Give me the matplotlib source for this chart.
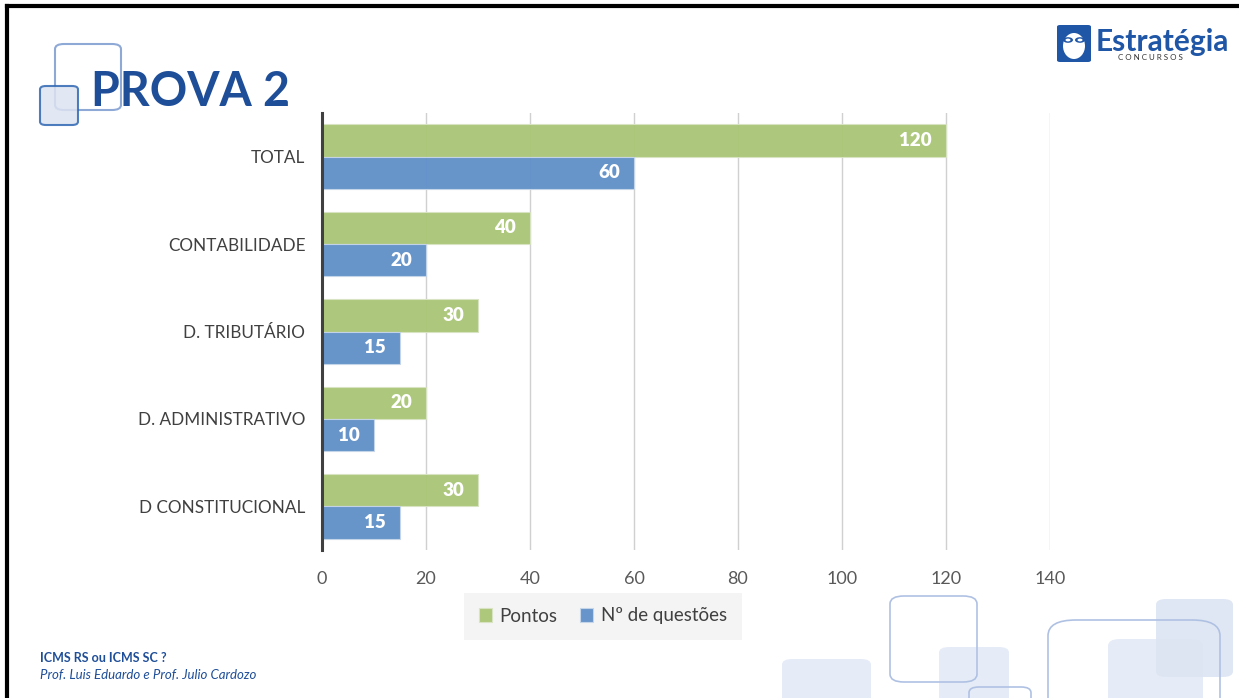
import matplotlib
matplotlib.use("Agg")
import matplotlib.pyplot as plt
import numpy as np
from matplotlib.patches import FancyBboxPatch, Ellipse, Circle
from matplotlib.lines import Line2D

# chart data
categorias = ["TOTAL", "CONTABILIDADE", "D. TRIBUTÁRIO", "D. ADMINISTRATIVO", "D CONSTITUCIONAL"]
pontos = [120, 40, 30, 20, 30]
questoes = [60, 20, 15, 10, 15]
x_ticks = [0, 20, 40, 60, 80, 100, 120, 140]

verde = "#A9C575"
azul = "#5F8FC8"
azul_titulo = "#1F4E99"
plt.rcParams['font.family'] = ['Lato', 'DejaVu Sans']

W, H = 1239, 698
fig = plt.figure(figsize=(W / 100, H / 100), dpi=100)


def fx(px):
    return px / W


def fy(py):
    return 1 - py / H


def caixa(x0, y0, x1, y1, face, edge, lw=1.0, r=10, alpha=1.0):
    p = FancyBboxPatch((fx(x0), fy(y1)), fx(x1 - x0), (y1 - y0) / H,
                       boxstyle="round,pad=0,rounding_size=%f" % (r / W),
                       transform=fig.transFigure, facecolor=face, edgecolor=edge,
                       linewidth=lw, alpha=alpha, zorder=0)
    fig.add_artist(p)


# slide frame (left and top border)
fig.add_artist(Line2D([fx(7), fx(7)], [0, fy(6)], transform=fig.transFigure, color="black", lw=3))
fig.add_artist(Line2D([fx(7), 1], [fy(6), fy(6)], transform=fig.transFigure, color="black", lw=3))

# decorative squares top-left
caixa(55, 44, 121, 110, "none", "#8EA9D6", lw=1.5, r=9)
caixa(40, 86, 78, 125, "#DCE3F1", "#2F67B2", lw=1.5, r=6, alpha=0.85)

fig.text(fx(91), fy(92), "PROVA 2", fontsize=33.5, fontweight="bold", color=azul_titulo,
         va="center", ha="left")

# decorative squares bottom-right
claro = "#E6ECF7"
borda = "#AFC1E3"
caixa(782, 659, 871, 720, claro, "none", r=10)
caixa(939, 647, 1009, 720, claro, "none", r=10)
caixa(890, 596, 977, 682, "none", borda, lw=1.2, r=14)
caixa(969, 687, 1031, 720, "none", borda, lw=1.2, r=10)
caixa(1108, 639, 1203, 720, claro, "none", r=12)
caixa(1156, 599, 1233, 677, "#DDE5F3", "none", r=10, alpha=0.9)
caixa(1048, 620, 1220, 720, "none", borda, lw=1.2, r=28)

# logo
caixa(1057, 25, 1091, 62, "#1F56A6", "none", r=3)
fig.add_artist(Ellipse((fx(1074), fy(46)), 22 / W, 26 / H, transform=fig.transFigure,
                       facecolor="white", edgecolor="none"))
for cx in (1068, 1080):
    fig.add_artist(Circle((fx(cx), fy(40)), 5 / W, transform=fig.transFigure,
                          facecolor="#1F56A6", edgecolor="none"))
    fig.add_artist(Circle((fx(cx), fy(40)), 2.5 / W, transform=fig.transFigure,
                          facecolor="white", edgecolor="none"))
fig.text(fx(1096), fy(51), "Estratégia", fontsize=21.5, fontweight="bold", color="#1F56A6",
         va="baseline", ha="left")
fig.text(fx(1118), fy(60), "C O N C U R S O S", fontsize=5.8, color="#333333",
         va="baseline", ha="left")

# footer
fig.text(fx(40), fy(658), "ICMS RS ou ICMS SC ?", fontsize=9, fontweight="bold",
         color=azul_titulo, va="center", ha="left")
fig.text(fx(40), fy(675), "Prof. Luis Eduardo e Prof. Julio Cardozo", fontsize=9.5,
         fontstyle="italic", color=azul_titulo, va="center", ha="left")

# chart
ax = fig.add_axes([fx(322), fy(550), fx(1050) - fx(322), (550 - 113) / H])
y = np.arange(len(categorias))
h = 0.37
b1 = ax.barh(y - h / 2, pontos, height=h, color=verde, edgecolor="#D8E4C4", linewidth=0.8,
             alpha=0.95, zorder=2, label="Pontos")
b2 = ax.barh(y + h / 2, questoes, height=h, color=azul, edgecolor="#C6D5EA", linewidth=0.8,
             alpha=0.95, zorder=2, label="Nº de questões")
for bars in (b1, b2):
    labels = ax.bar_label(bars, padding=-10, color="white", fontsize=13.5, fontweight="heavy",
                          label_type="edge", fmt="%d")
    for t in labels:
        t.set_horizontalalignment("right")

ax.set_ylim(len(categorias) - 0.5, -0.5)
ax.set_xlim(0, 140)
ax.set_yticks(y)
ax.set_yticklabels(categorias, fontsize=12.3, color="#404040")
ax.set_xticks(x_ticks)
ax.set_xticklabels([str(v) for v in x_ticks], fontsize=13, color="#595959")
ax.tick_params(axis="both", length=0)
ax.tick_params(axis="y", pad=12)
ax.tick_params(axis="x", pad=15)
ax.grid(axis="x", color="#D0D0D0", linewidth=1.0, zorder=0)
ax.set_axisbelow(True)
for s in ("top", "right", "bottom"):
    ax.spines[s].set_visible(False)
ax.spines["left"].set_color("#404040")
ax.spines["left"].set_linewidth(2.2)
ax.spines["left"].set_zorder(3)

leg = fig.legend(handles=[b1, b2], loc="center", bbox_to_anchor=(fx(603), fy(616)),
                 ncol=2, frameon=True, fontsize=13.5, handlelength=0.7, handleheight=0.7,
                 handletextpad=0.4, columnspacing=1.2, borderpad=0.5)
leg.get_frame().set_facecolor("#F2F2F2")
leg.get_frame().set_edgecolor("none")
leg.get_frame().set_boxstyle("square")
for t in leg.get_texts():
    t.set_color("#404040")

fig.savefig("out.png", dpi=100)
